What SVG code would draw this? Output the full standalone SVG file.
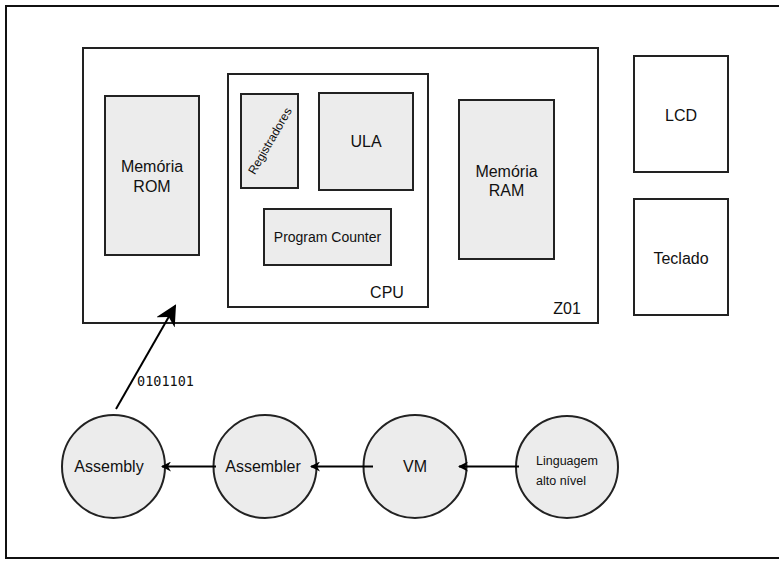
<svg xmlns="http://www.w3.org/2000/svg" width="779" height="561" viewBox="0 0 779 561">
  <style>
    .box { fill: #ffffff; stroke: #222222; stroke-width: 2; }
    .part { fill: #ececec; stroke: #222222; stroke-width: 2; }
    .node { fill: #ececec; stroke: #222222; stroke-width: 2; }
    .lbl { font-family: "Liberation Sans", Arial, sans-serif; font-size: 16px; fill: #111111; text-anchor: middle; }
    .edge { fill: none; stroke: #000000; stroke-width: 2; }
    .mono { font-family: "DejaVu Sans Mono", "Liberation Mono", monospace; font-size: 13.5px; fill: #111111; }
  </style>
  <defs>
    <marker id="arrow" viewBox="0 0 10 10" refX="9" refY="5" markerWidth="10" markerHeight="10" markerUnits="userSpaceOnUse" orient="auto">
      <path d="M0,0 L10,5 L0,10 L3,5 Z" fill="#000000"/>
    </marker>
    <marker id="arrowBig" viewBox="0 0 10 10" refX="9" refY="5" markerWidth="21" markerHeight="21" markerUnits="userSpaceOnUse" orient="auto">
      <path d="M0,0 L10,5 L0,10 L3,5 Z" fill="#000000"/>
    </marker>
  </defs>

  <rect width="779" height="561" fill="#ffffff"/>

  <!-- outer frame -->
  <rect x="6" y="6" width="800" height="552" fill="none" stroke="#111111" stroke-width="2"/>

  <g id="z01">
    <rect class="box" x="83" y="48" width="515" height="275"/>
    <text class="lbl" x="567" y="314">Z01</text>
  </g>

  <g id="rom">
    <rect class="part" x="105" y="96" width="94" height="159"/>
    <text class="lbl" x="152" y="172">Memória</text>
    <text class="lbl" x="152" y="192">ROM</text>
  </g>

  <g id="cpu">
    <rect class="box" x="228" y="74" width="200" height="233"/>
    <text class="lbl" x="387" y="298">CPU</text>
  </g>

  <g id="registradores">
    <rect class="part" x="241" y="94" width="57" height="94"/>
    <text class="lbl" style="font-size:12px" x="270" y="145" transform="rotate(-60 270 141)">Registradores</text>
  </g>

  <g id="ula">
    <rect class="part" x="319" y="93" width="94" height="97"/>
    <text class="lbl" x="366" y="147">ULA</text>
  </g>

  <g id="pc">
    <rect class="part" x="264" y="209" width="127" height="56"/>
    <text class="lbl" style="font-size:14px" x="327.5" y="242">Program Counter</text>
  </g>

  <g id="ram">
    <rect class="part" x="459" y="100" width="95" height="159"/>
    <text class="lbl" x="506.5" y="177">Memória</text>
    <text class="lbl" x="506.5" y="196">RAM</text>
  </g>

  <g id="lcd">
    <rect class="box" x="634" y="56" width="94" height="116"/>
    <text class="lbl" x="681" y="120.5">LCD</text>
  </g>

  <g id="teclado">
    <rect class="box" x="634" y="199" width="94" height="116"/>
    <text class="lbl" x="681" y="263.5">Teclado</text>
  </g>

  <g id="assembly">
    <circle class="node" cx="113.5" cy="466.5" r="51.5"/>
    <text class="lbl" x="109" y="472">Assembly</text>
  </g>

  <g id="assembler">
    <circle class="node" cx="265" cy="466.5" r="51.5"/>
    <text class="lbl" x="263" y="472">Assembler</text>
  </g>

  <g id="vm">
    <circle class="node" cx="415" cy="466.5" r="51.5"/>
    <text class="lbl" x="415" y="472">VM</text>
  </g>

  <g id="linguagem">
    <circle class="node" cx="567" cy="467" r="51"/>
    <text class="lbl" style="font-size:12.5px; text-anchor:start" x="536" y="464.5">Linguagem</text>
    <text class="lbl" style="font-size:12.5px; text-anchor:start" x="536" y="485">alto nível</text>
  </g>

  <g id="connectors">
    <line class="edge" x1="216" y1="466.5" x2="162" y2="466.5" marker-end="url(#arrow)"/>
    <line class="edge" x1="373" y1="466.5" x2="311" y2="466.5" marker-end="url(#arrow)"/>
    <line class="edge" x1="519" y1="466.5" x2="459" y2="466.5" marker-end="url(#arrow)"/>
    <line class="edge" x1="116" y1="409" x2="175" y2="306" marker-end="url(#arrowBig)"/>
    <text class="mono" x="137" y="386">0101101</text>
  </g>
</svg>
